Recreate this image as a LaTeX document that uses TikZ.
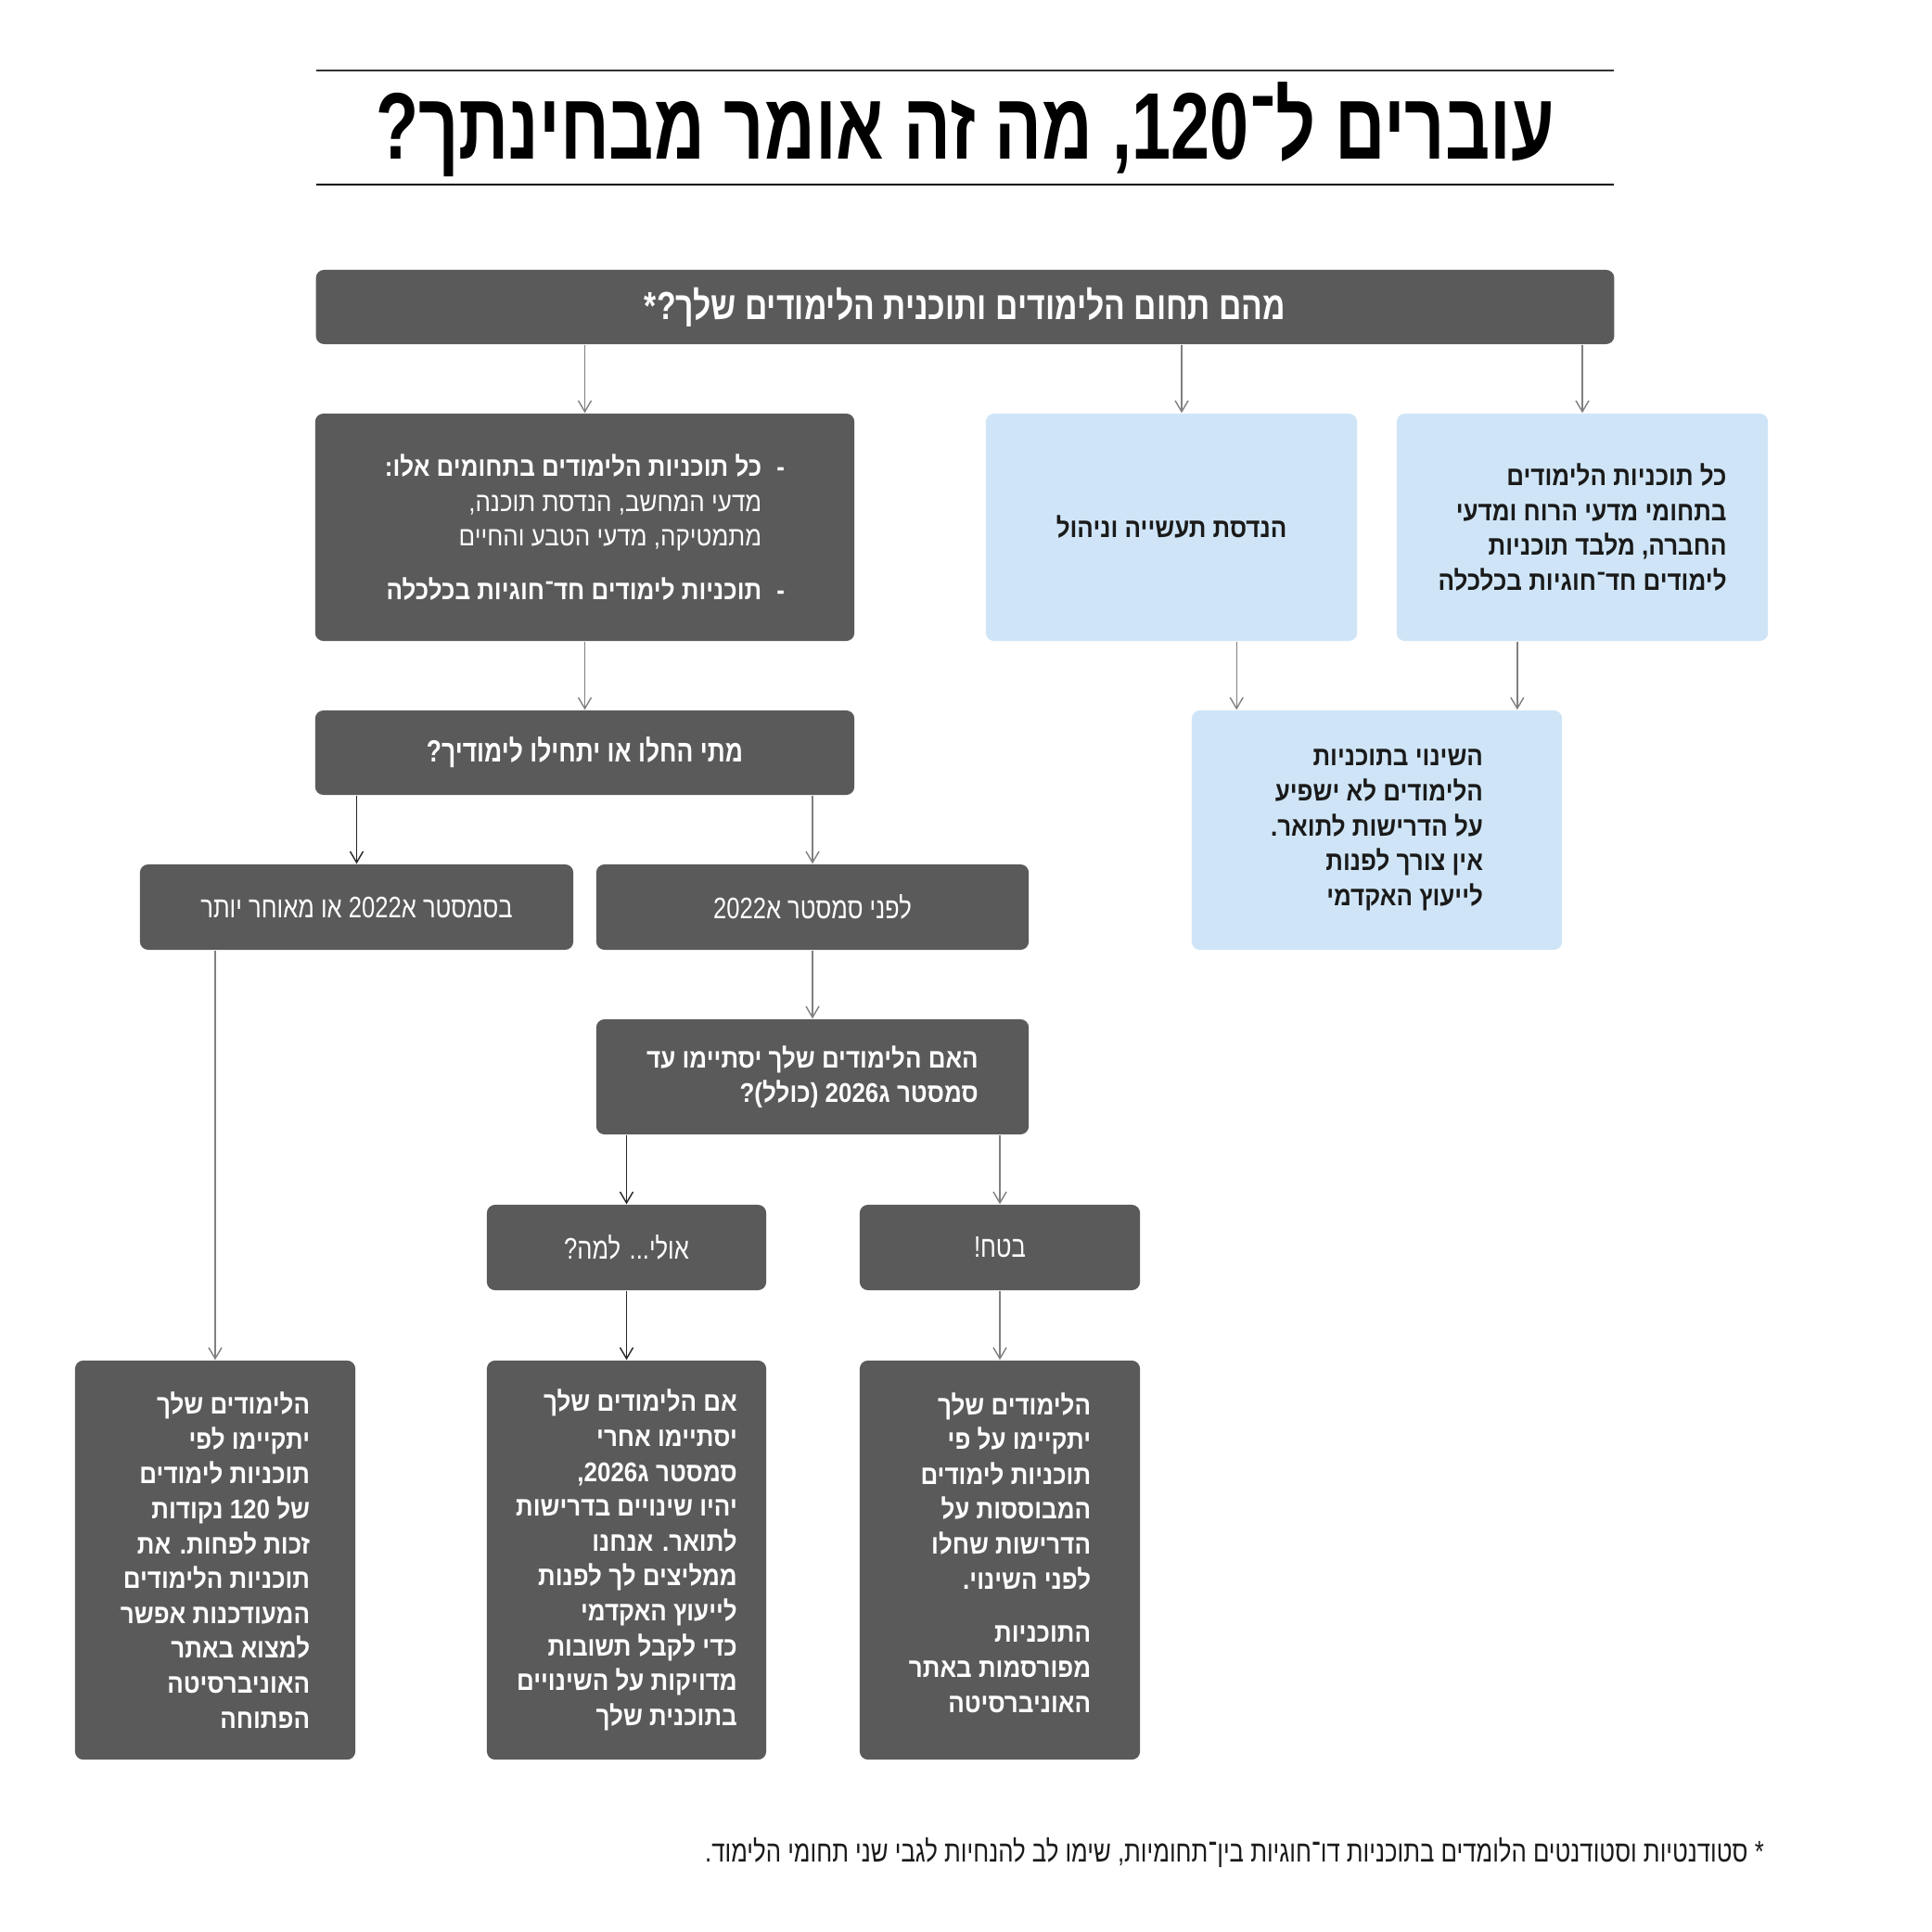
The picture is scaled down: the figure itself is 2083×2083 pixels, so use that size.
\documentclass[tikz,border=0pt]{standalone}
\usepackage{fontspec}
\setmainfont{Liberation Sans}[Script=Hebrew]
\newfontfamily\bodyfont{Liberation Sans}[Script=Hebrew,FakeStretch=0.89]
\newfontfamily\narrowfont{Liberation Sans}[Script=Hebrew,FakeStretch=0.8]
\newfontfamily\titlefont{Liberation Sans}[Script=Hebrew,FakeStretch=0.74]
\usetikzlibrary{arrows.meta,calc}
\TeXXeTstate=1
\definecolor{boxdark}{HTML}{5A5A5A}
\definecolor{boxlight}{HTML}{CFE5F7}
\definecolor{inkdark}{HTML}{1A1A1A}
\begin{document}
\begin{tikzpicture}[x=0.01cm,y=-0.01cm,
  darkbox/.style={fill=boxdark,text=white,rounded corners=2.5pt,align=right,inner sep=0pt},
  lightbox/.style={fill=boxlight,text=inkdark,rounded corners=2.5pt,align=right,inner sep=0pt},
  bodytext/.style={font=\bodyfont\fontsize{8.3}{10.7}\selectfont\bfseries},
  headtext/.style={font=\narrowfont\fontsize{9.4}{11.5}\selectfont\bfseries},
  choicetext/.style={font=\narrowfont\fontsize{9.1}{11}\selectfont},
  link/.style={draw=gray,line width=0.4pt,-{Straight Barb[length=3.4pt,width=4pt]}},
  linkdark/.style={link,draw=black!85}]
\useasboundingbox (0,0) rectangle (2083,2083);
\fill[white] (0,0) rectangle (2083,2083);

\draw[line width=0.4pt,black!80] (341,76) -- (1740,76);
\draw[line width=0.6pt,black] (341,199) -- (1740,199);
\node[font=\titlefont\fontsize{29}{32}\selectfont\bfseries] (title) at (1040.5,140)
  {\beginR עוברים ל־120, מה זה אומר מבחינתך?\endR};

\node[darkbox,headtext,font=\narrowfont\fontsize{12}{14}\selectfont\bfseries,minimum width=13.99cm,minimum height=0.80cm] (top) at (1040.5,331)
  {\beginR מהם תחום הלימודים ותוכנית הלימודים שלך?*\endR};

\node[darkbox,minimum width=5.81cm,minimum height=2.45cm,font=\bodyfont\fontsize{8.3}{10.7}\selectfont] (sci) at (630.5,568.5)
  {\beginR\makebox[0.85em][l]{\bfseries -}{\bfseries כל תוכניות הלימודים בתחומים אלו:}\endR\\
   \beginR\makebox[0.85em]{}מדעי המחשב, הנדסת תוכנה,\endR\\
   \beginR\makebox[0.85em]{}מתמטיקה, מדעי הטבע והחיים\endR\\[5.7pt]
   \beginR\makebox[0.85em][l]{\bfseries -}{\bfseries תוכניות לימודים חד־חוגיות בכלכלה}\endR};
\node[lightbox,bodytext,minimum width=4.00cm,minimum height=2.45cm] (ind) at (1263,568.5)
  {\beginR הנדסת תעשייה וניהול\endR};
\node[lightbox,bodytext,minimum width=4.00cm,minimum height=2.45cm] (hum) at (1706,568.5)
  {\beginR כל תוכניות הלימודים\endR\\
   \beginR בתחומי מדעי הרוח ומדעי\endR\\
   \beginR החברה, מלבד תוכניות\endR\\
   \beginR לימודים חד־חוגיות בכלכלה\endR};
\node[lightbox,bodytext,minimum width=3.99cm,minimum height=2.58cm] (nochange) at (1484.5,895)
  {\beginR השינוי בתוכניות\endR\\
   \beginR הלימודים לא ישפיע\endR\\
   \beginR על הדרישות לתואר.\endR\\
   \beginR אין צורך לפנות\endR\\
   \beginR לייעוץ האקדמי\endR};

\node[darkbox,headtext,minimum width=5.81cm,minimum height=0.91cm] (when) at (630.5,811.5)
  {\beginR מתי החלו או יתחילו לימודיך?\endR};
\node[darkbox,choicetext,minimum width=4.67cm,minimum height=0.92cm] (after) at (384.5,978)
  {\beginR בסמסטר א2022 או מאוחר יותר\endR};
\node[darkbox,choicetext,minimum width=4.66cm,minimum height=0.92cm] (before) at (876,978)
  {\beginR לפני סמסטר א2022\endR};
\node[darkbox,bodytext,minimum width=4.66cm,minimum height=1.24cm] (finish) at (876,1161)
  {\beginR האם הלימודים שלך יסתיימו עד\endR\\
   \beginR סמסטר ג2026 (כולל)?\endR};
\node[darkbox,choicetext,minimum width=3.01cm,minimum height=0.92cm] (maybe) at (675.5,1345)
  {\beginR אולי... למה?\endR};
\node[darkbox,choicetext,minimum width=3.02cm,minimum height=0.92cm] (sure) at (1078,1345)
  {\beginR בטח!\endR};

\node[darkbox,bodytext,minimum width=3.02cm,minimum height=4.30cm] (newplan) at (232,1682)
  {\beginR הלימודים שלך\endR\\
   \beginR יתקיימו לפי\endR\\
   \beginR תוכניות לימודים\endR\\
   \beginR של 120 נקודות\endR\\
   \beginR זכות לפחות. את\endR\\
   \beginR תוכניות הלימודים\endR\\
   \beginR המעודכנות אפשר\endR\\
   \beginR למצוא באתר\endR\\
   \beginR האוניברסיטה\endR\\
   \beginR הפתוחה\endR};
\node[darkbox,bodytext,minimum width=3.01cm,minimum height=4.30cm] (advice) at (675.5,1682)
  {\beginR אם הלימודים שלך\endR\\
   \beginR יסתיימו אחרי\endR\\
   \beginR סמסטר ג2026,\endR\\
   \beginR יהיו שינויים בדרישות\endR\\
   \beginR לתואר. אנחנו\endR\\
   \beginR ממליצים לך לפנות\endR\\
   \beginR לייעוץ האקדמי\endR\\
   \beginR כדי לקבל תשובות\endR\\
   \beginR מדויקות על השינויים\endR\\
   \beginR בתוכנית שלך\endR};
\node[darkbox,bodytext,minimum width=3.02cm,minimum height=4.30cm] (oldplan) at (1078,1682)
  {\beginR הלימודים שלך\endR\\
   \beginR יתקיימו על פי\endR\\
   \beginR תוכניות לימודים\endR\\
   \beginR המבוססות על\endR\\
   \beginR הדרישות שחלו\endR\\
   \beginR לפני השינוי.\endR\\[5.7pt]
   \beginR התוכניות\endR\\
   \beginR מפורסמות באתר\endR\\
   \beginR האוניברסיטה\endR\\[-6pt]
   \mbox{}};

\node[anchor=east,text=inkdark,font=\narrowfont\fontsize{9.15}{11}\selectfont] (note) at (1914,1997)
  {\beginR * סטודנטיות וסטודנטים הלומדים בתוכניות דו־חוגיות בין־תחומיות, שימו לב להנחיות לגבי שני תחומי הלימוד.\endR};

\coordinate (indout) at ($(ind.north)+(11,0)$);
\coordinate (nochangeL) at ($(nochange.north west)+(49,0)$);
\coordinate (nochangeR) at ($(nochange.north east)+(-49,0)$);
\draw[link] (top.south -| sci.north) -- (sci.north);
\draw[link] (top.south -| indout) -- (indout);
\draw[link] (top.south -| hum.north) -- (hum.north);
\draw[link] (ind.south -| nochangeL) -- (nochangeL);
\draw[link] (hum.south -| nochangeR) -- (nochangeR);
\draw[link] (sci.south) -- (when.north);
\draw[linkdark] (when.south -| after.north) -- (after.north);
\draw[link] (when.south -| before.north) -- (before.north);
\draw[link] (before.south) -- (finish.north);
\draw[linkdark] (finish.south -| maybe.north) -- (maybe.north);
\draw[link] (finish.south -| sure.north) -- (sure.north);
\draw[link] (after.south -| newplan.north) -- (newplan.north);
\draw[linkdark] (maybe.south) -- (advice.north);
\draw[link] (sure.south) -- (oldplan.north);
\end{tikzpicture}
\end{document}
